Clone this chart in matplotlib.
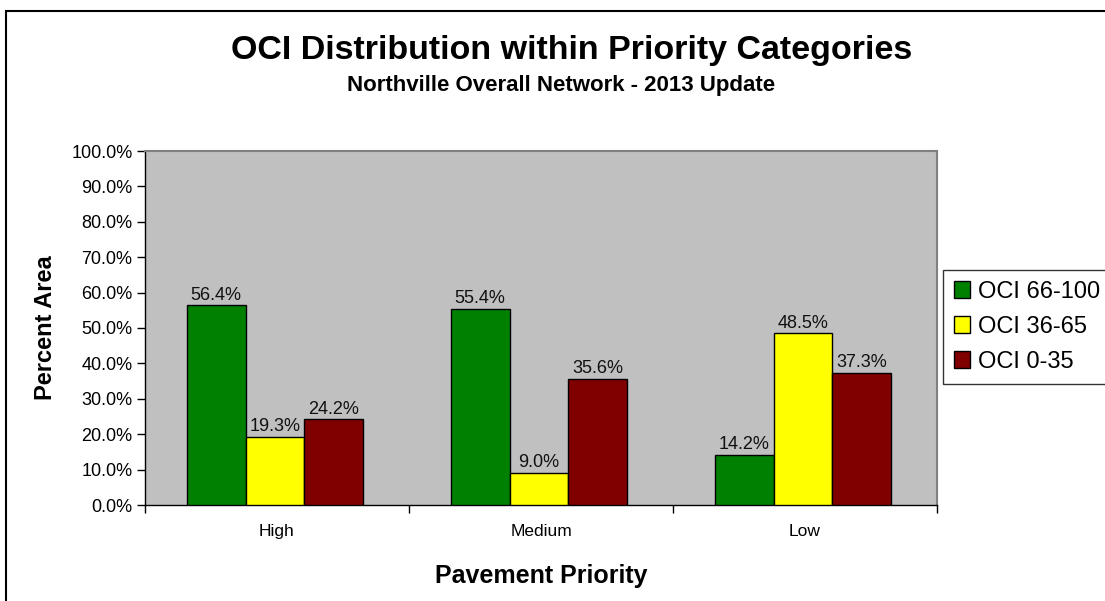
import matplotlib
matplotlib.use("Agg")
import matplotlib.pyplot as plt
import numpy as np
from matplotlib.patches import Rectangle

plt.rcParams['font.family'] = ['Liberation Sans', 'DejaVu Sans']

categories = ["High", "Medium", "Low"]
series_names = ["OCI 66-100", "OCI 36-65", "OCI 0-35"]
oci_66_100 = [56.4, 55.4, 14.2]
oci_36_65 = [19.3, 9.0, 48.5]
oci_0_35 = [24.2, 35.6, 37.3]
colors = ["#008000", "#FFFF00", "#800000"]
y_ticks = [0, 10, 20, 30, 40, 50, 60, 70, 80, 90, 100]

W, H = 1105, 601
fig = plt.figure(figsize=(W / 100, H / 100), dpi=100)
fig.patch.set_facecolor("white")

# outer chart frame
fig.patches.append(Rectangle((6 / W, -0.01), 1.05, 1 - 10.5 / H - (-0.01),
                             transform=fig.transFigure, fill=False,
                             edgecolor="black", linewidth=1.5))

ax = fig.add_axes([145 / W, (H - 505) / H, (937 - 145) / W, (505 - 151) / H])
ax.set_facecolor("#C0C0C0")

x = np.arange(len(categories))
bw = 1 / 4.5
for i, (vals, c, name) in enumerate(zip([oci_66_100, oci_36_65, oci_0_35], colors, series_names)):
    pos = x + (i - 1) * bw - 0.008
    ax.bar(pos, vals, width=bw, color=c, edgecolor="black", linewidth=1.0, label=name, zorder=3)
    for p, v in zip(pos, vals):
        ax.text(p, v + 0.5, f"{v:.1f}%", ha="center", va="bottom", fontsize=13, color="#111111", zorder=4)

ax.set_xlim(-0.5, 2.5)
ax.set_ylim(0, 100)
ax.set_yticks(y_ticks)
ax.set_yticklabels([f"{t:.1f}%" for t in y_ticks], fontsize=13)
ax.set_xticks([-0.5, 0.5, 1.5, 2.5], minor=False)
ax.set_xticklabels([])
ax.set_xticks(x, minor=True)
ax.set_xticklabels(categories, minor=True, fontsize=12.5)
ax.tick_params(axis="x", which="minor", length=0, pad=14)
ax.tick_params(axis="x", which="major", length=6, direction="out", width=1)
ax.tick_params(axis="y", length=6, direction="out", width=1, pad=3)

for side in ["top", "right"]:
    ax.spines[side].set_color("#808080")
    ax.spines[side].set_linewidth(1.5)
for side in ["left", "bottom"]:
    ax.spines[side].set_color("black")
    ax.spines[side].set_linewidth(1.0)

ax.set_ylabel("Percent Area", fontsize=17, fontweight="bold", labelpad=10)
ax.set_xlabel("Pavement Priority", fontsize=18, fontweight="bold", labelpad=18)

fig.text(572 / W, 1 - 50 / H, "OCI Distribution within Priority Categories",
         ha="center", va="center", fontsize=24.5, fontweight="bold")
fig.text(561 / W, 1 - 86 / H, "Northville Overall Network - 2013 Update",
         ha="center", va="center", fontsize=16, fontweight="bold")

leg = fig.legend(loc="center left", bbox_to_anchor=(943 / W, 1 - 327 / H),
                 fontsize=17, frameon=True, fancybox=False, edgecolor="black",
                 handlelength=0.7, handleheight=0.7, handletextpad=0.35,
                 labelspacing=0.55, borderpad=0.45, borderaxespad=0)
leg.get_frame().set_linewidth(1.0)

fig.savefig("out.png", dpi=100)
